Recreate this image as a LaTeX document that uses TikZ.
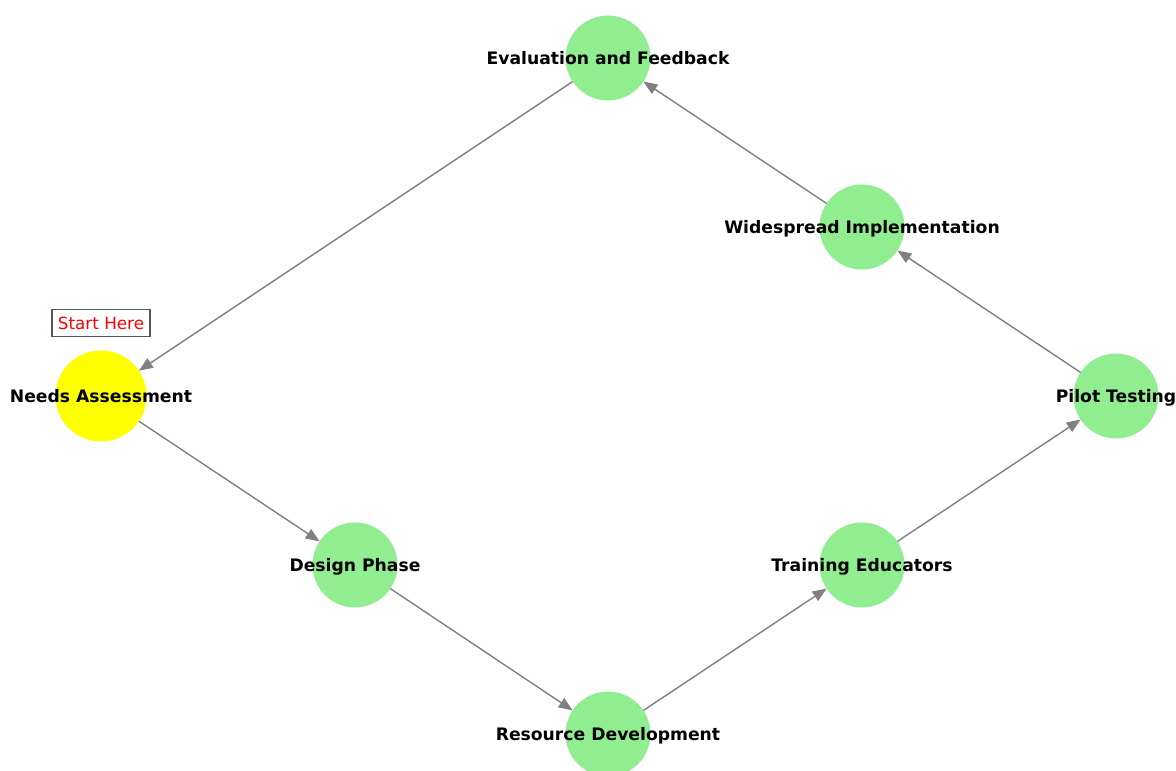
\documentclass[tikz,border=0pt]{standalone}
\usepackage{fontspec}
\setmainfont{DejaVu Sans}
\usetikzlibrary{arrows.meta}
\definecolor{lgreen}{HTML}{90EE90}
\definecolor{edgegray}{HTML}{808080}
\definecolor{pureyellow}{HTML}{FFFF00}
\definecolor{boxgray}{HTML}{555555}
\tikzset{
  x=1pt, y=1pt,
  stepnode/.style={circle, fill=lgreen, minimum size=85pt, inner sep=0pt, outer sep=0pt},
  startnode/.style={circle, fill=pureyellow, minimum size=91pt, inner sep=0pt, outer sep=0pt},
  lbl/.style={font=\fontsize{17.2}{19}\selectfont\bfseries, text=black, inner sep=0pt, text height=12.6pt, text depth=0pt},
  flow/.style={draw=edgegray, line width=1.4pt, -{Triangle[length=14pt, width=11pt]}},
}
\begin{document}
\begin{tikzpicture}
\useasboundingbox (0,0) rectangle (1176,771);
\node[startnode] (na) at (101,375) {};
\node[stepnode] (dp) at (355,206) {};
\node[stepnode] (rd) at (608,37) {};
\node[stepnode] (te) at (862,206) {};
\node[stepnode] (pt) at (1116,375) {};
\node[stepnode] (wi) at (862,544) {};
\node[stepnode] (ef) at (608,713) {};

\draw[flow] (na) -- (dp);
\draw[flow] (dp) -- (rd);
\draw[flow] (rd) -- (te);
\draw[flow] (te) -- (pt);
\draw[flow] (pt) -- (wi);
\draw[flow] (wi) -- (ef);
\draw[flow] (ef) -- (na);

\node[lbl] at (na) {Needs Assessment};
\node[lbl] at (dp) {Design Phase};
\node[lbl] at (rd) {Resource Development};
\node[lbl] at (te) {Training Educators};
\node[lbl] at (pt) {Pilot Testing};
\node[lbl] at (wi) {Widespread Implementation};
\node[lbl] at (ef) {Evaluation and Feedback};

\node[draw=boxgray, line width=1.1pt, fill=white, text=red, font=\fontsize{16.8}{18}\selectfont, minimum width=98pt, minimum height=27pt, inner sep=2pt] (sh) at (101,448) {Start Here};
\end{tikzpicture}
\end{document}
